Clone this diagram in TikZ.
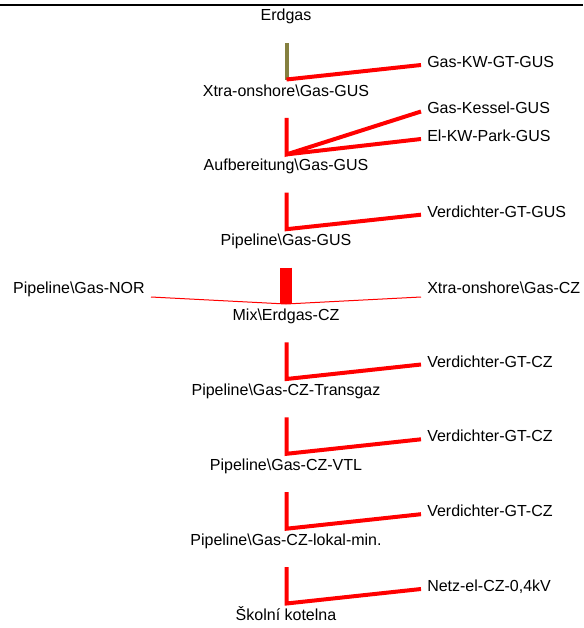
\documentclass[tikz,border=0pt]{standalone}
\usepackage{fontspec}
\setmainfont{Liberation Sans}
\definecolor{barolive}{RGB}{133,128,64}
\newcommand{\bsl}{\textbackslash}

\begin{document}
\begin{tikzpicture}[x=0.75pt,y=-0.75pt,
	lbl/.style={inner sep=0pt, anchor=base, font=\fontsize{12}{14}\selectfont},
	rlbl/.style={lbl, anchor=base west},
	llbl/.style={lbl, anchor=base east},
	flow/.style={red, line width=3pt},
	thinflow/.style={red, line width=0.75pt}]
	\useasboundingbox (0,0) rectangle (583,628);
	\draw[line width=1.5pt] (0,5) -- (583,5);
	\node[lbl] (erdgas) at (286,21) {Erdgas};
	% Xtra-onshore
	\coordinate (xgus-t) at (286.5,43);
	\coordinate (xgus-b) at (286.5,79.5);
	\node[lbl] (xgus) at (286,96) {Xtra-onshore\bsl Gas-GUS};
	\node[rlbl] (gkw) at (427,67.5) {Gas-KW-GT-GUS};
	\draw[barolive, line width=3pt] (xgus-t) -- (xgus-b);
	\draw[flow] (xgus-b) -- ([shift={(-6,-2.5)}]gkw.base west);
	% Aufbereitung
	\coordinate (aufb-t) at (286.5,117.9);
	\coordinate (aufb-b) at (286.5,154.4);
	\node[lbl] (aufb) at (286,170.8) {Aufbereitung\bsl Gas-GUS};
	\node[rlbl] (gkes) at (427,113.5) {Gas-Kessel-GUS};
	\node[rlbl] (elkw) at (427,141.5) {El-KW-Park-GUS};
	\draw[flow] (aufb-t) -- (aufb-b) -- ([shift={(-6,-2)}]gkes.base west);
	\draw[flow] (aufb-b) -- ([shift={(-6,-2.5)}]elkw.base west);
	% Pipeline GUS
	\coordinate (pgus-t) at (286.5,192.7);
	\coordinate (pgus-b) at (286.5,229.2);
	\node[lbl] (pgus) at (286,245.7) {Pipeline\bsl Gas-GUS};
	\node[rlbl] (vgus) at (427,217.2) {Verdichter-GT-GUS};
	\draw[flow] (pgus-t) -- (pgus-b) -- ([shift={(-6,-2.5)}]vgus.base west);
	% Mix
	\coordinate (mix-t) at (286,267.6);
	\coordinate (mix-b) at (286,304);
	\node[lbl] (mix) at (286,320.5) {Mix\bsl Erdgas-CZ};
	\node[llbl] (pnor) at (145,293.5) {Pipeline\bsl Gas-NOR};
	\node[rlbl] (xcz) at (427,293.5) {Xtra-onshore\bsl Gas-CZ};
	\draw[red, line width=9pt] (mix-t) -- (mix-b);
	\draw[thinflow] ([shift={(6,3.5)}]pnor.base east) -- (mix-b) -- ([shift={(-6,3.5)}]xcz.base west);
	% Transgaz
	\coordinate (ptg-t) at (286.5,342.4);
	\coordinate (ptg-b) at (286.5,379);
	\node[lbl] (ptg) at (286,395.4) {Pipeline\bsl Gas-CZ-Transgaz};
	\node[rlbl] (vcz1) at (427,367) {Verdichter-GT-CZ};
	\draw[flow] (ptg-t) -- (ptg-b) -- ([shift={(-6,-2.5)}]vcz1.base west);
	% VTL
	\coordinate (pvtl-t) at (286.5,417.3);
	\coordinate (pvtl-b) at (286.5,453.8);
	\node[lbl] (pvtl) at (286,470.3) {Pipeline\bsl Gas-CZ-VTL};
	\node[rlbl] (vcz2) at (427,441.8) {Verdichter-GT-CZ};
	\draw[flow] (pvtl-t) -- (pvtl-b) -- ([shift={(-6,-2.5)}]vcz2.base west);
	% lokal
	\coordinate (plok-t) at (286.5,492.2);
	\coordinate (plok-b) at (286.5,528.7);
	\node[lbl] (plok) at (286,545.1) {Pipeline\bsl Gas-CZ-lokal-min.};
	\node[rlbl] (vcz3) at (427,516.7) {Verdichter-GT-CZ};
	\draw[flow] (plok-t) -- (plok-b) -- ([shift={(-6,-2.5)}]vcz3.base west);
	% Skolni kotelna
	\coordinate (skol-t) at (286.5,567);
	\coordinate (skol-b) at (286.5,603.5);
	\node[lbl] (skol) at (286,620) {Školní kotelna};
	\node[rlbl] (netz) at (427,591.5) {Netz-el-CZ-0,4kV};
	\draw[flow] (skol-t) -- (skol-b) -- ([shift={(-6,-2.5)}]netz.base west);
\end{tikzpicture}
\end{document}
